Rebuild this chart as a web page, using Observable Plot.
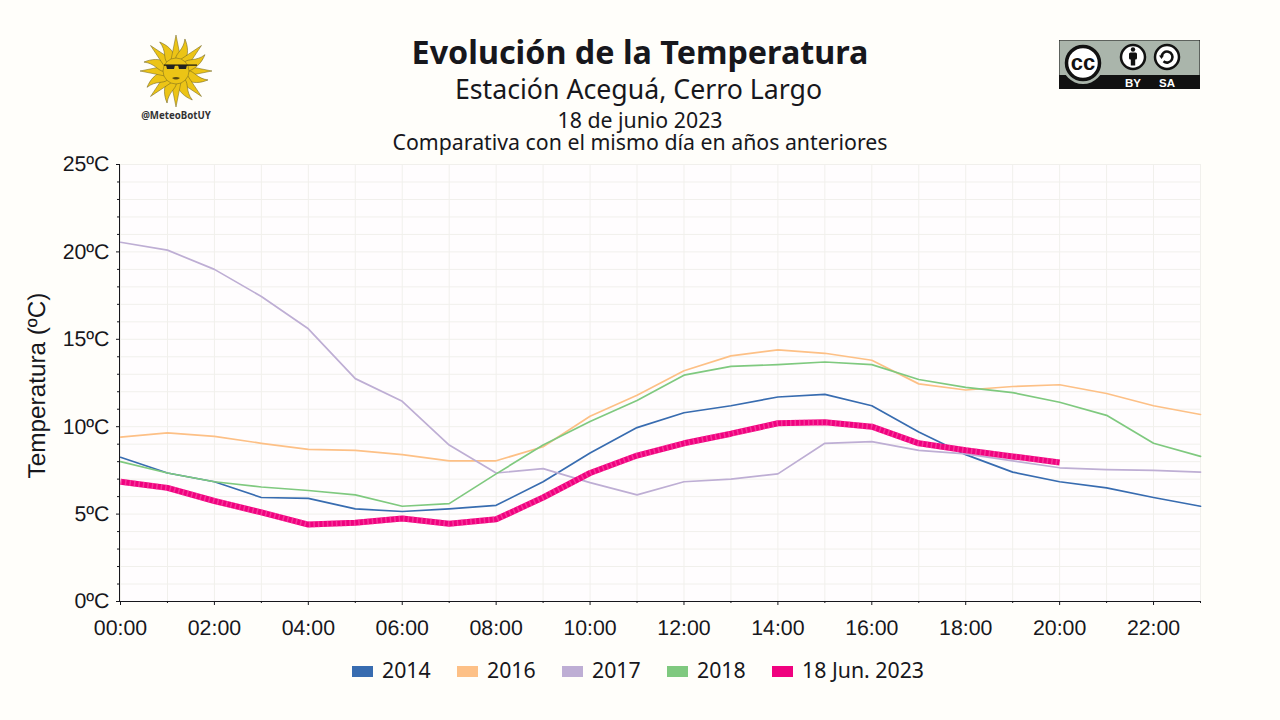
<!DOCTYPE html>
<html><head><meta charset="utf-8">
<script src="https://cdn.jsdelivr.net/npm/d3@7"></script>
<script src="https://cdn.jsdelivr.net/npm/@observablehq/plot@0.6"></script>
<style>
html,body{margin:0;padding:0;background:#fffefa;width:1280px;height:720px;overflow:hidden;font-family:"Noto Sans",sans-serif;color:#17171c}
#head{position:relative;height:155px;width:1280px}
#head div{position:absolute;left:0;width:1280px;text-align:center;white-space:nowrap}
#t1{top:29px;font-size:32.3px;font-weight:700;line-height:44px}
#t2{top:70px;left:-1.5px!important;font-size:26.7px;line-height:38px}
#t3{top:108px;font-size:21.3px;line-height:23px}
#t4{top:131px;font-size:21.3px;line-height:22px}
#chart{position:absolute;left:0;top:155px}
#chart svg{text-rendering:geometricPrecision}
#legend{position:absolute;left:0;top:655px;width:1280px;height:30px;font-size:21.3px}
#legend span{position:absolute;top:0;line-height:30px;white-space:nowrap}
#legend i{position:absolute;top:11px;height:11px;width:21px}
svg.deco{position:absolute}
</style></head><body>
<div id="head">
<div id="t1">Evolución de la Temperatura</div>
<div id="t2">Estación Aceguá, Cerro Largo</div>
<div id="t3">18 de junio 2023</div>
<div id="t4">Comparativa con el mismo día en años anteriores</div>
</div>
<svg class="deco" id="sun" style="left:130px;top:30px" width="92" height="95"></svg>
<svg class="deco" id="cc" style="left:1059px;top:40px" width="141" height="49"></svg>
<div id="chart"></div>
<div id="legend"></div>
<script>
const hours=[0,1,2,3,4,5,6,7,8,9,10,11,12,13,14,15,16,17,18,19,20,21,22,23];
const t2014=[8.25,7.35,6.85,5.95,5.9,5.3,5.15,5.3,5.5,6.85,8.5,9.95,10.8,11.2,11.7,11.85,11.2,9.7,8.4,7.4,6.85,6.5,5.95,5.45];
const t2016=[9.4,9.65,9.45,9.05,8.7,8.65,8.4,8.05,8.05,8.85,10.6,11.8,13.2,14.05,14.4,14.2,13.8,12.45,12.1,12.3,12.4,11.9,11.2,10.7];
const t2017=[20.55,20.1,19.0,17.45,15.6,12.75,11.45,8.95,7.35,7.6,6.8,6.1,6.85,7.0,7.3,9.05,9.15,8.65,8.45,8.05,7.65,7.55,7.5,7.4];
const t2018=[8.0,7.35,6.85,6.55,6.35,6.1,5.45,5.6,7.3,8.95,10.3,11.5,12.95,13.45,13.55,13.7,13.55,12.7,12.25,11.95,11.4,10.65,9.05,8.3];
const t2023=[6.85,6.5,5.75,5.1,4.4,4.5,4.75,4.45,4.7,5.95,7.35,8.35,9.05,9.6,10.2,10.25,10.0,9.05,8.65,8.3,7.95];
const names=["2014","2016","2017","2018","18 Jun. 2023"];
const colors=["#386cb0","#fdc086","#beaed4","#7fc97f","#f0027f"];
const legendX=[352,457,562,667,772];
const rows=(s,v)=>v.map((y,i)=>({h:hours[i],y,s}));
const thin=[[names[0],t2014],[names[1],t2016],[names[2],t2017],[names[3],t2018]];
const fmtH=h=>String(h).padStart(2,"0")+":00";
const grid="#f1f0ec";
const ySteps=d3.range(0,26), xMaj=d3.range(0,24,2);
const p=Plot.plot({
  width:1280,height:495,marginLeft:120,marginRight:80,marginTop:9,marginBottom:49,
  style:{background:"transparent",fontFamily:"'Liberation Sans',sans-serif",color:"#17171c",overflow:"visible"},
  x:{domain:[0,23],label:null},
  y:{domain:[0,25],label:null},
  color:{domain:names,range:colors},
  marks:[
    Plot.frame({fill:"#fffdfe",stroke:null}),
    Plot.ruleY(ySteps,{stroke:grid,strokeWidth:1}),
    Plot.ruleX(hours,{stroke:grid,strokeWidth:1}),
    ...thin.map(([n,v])=>Plot.line(rows(n,v),{x:"h",y:"y",stroke:"s",strokeWidth:1.7,curve:"linear"})),
    Plot.line(rows(names[4],t2023),{x:"h",y:"y",stroke:"s",strokeWidth:6,strokeLinecap:"butt",strokeLinejoin:"miter"}),
    Plot.line(rows(names[4],t2023),{x:"h",y:"y",stroke:"#fb5fb0",strokeOpacity:.55,strokeWidth:6,strokeDasharray:"1.5,3",strokeLinecap:"butt",strokeLinejoin:"miter"}),
    Plot.ruleX([0],{stroke:"#17171c",strokeWidth:1,dx:-1}),
    Plot.ruleY([0],{stroke:"#17171c",strokeWidth:1}),
    Plot.axisY({ticks:ySteps.filter(d=>d%5),tickSize:3,text:null,stroke:"#17171c",label:null}),
    Plot.axisY({ticks:d3.range(0,26,5),tickSize:4,tickFormat:d=>d+"ºC",fontSize:21.3,tickPadding:7,label:null,stroke:"#17171c"}),
    Plot.axisX({ticks:hours.filter(d=>d%2),tickSize:2,text:null,stroke:"#17171c",label:null}),
    Plot.axisX({ticks:xMaj,tickSize:4,tickFormat:fmtH,fontSize:21.3,tickPadding:14,label:null,stroke:"#17171c"}),
    Plot.text(["Temperatura (ºC)"],{frameAnchor:"left",textAnchor:"middle",dx:-83,dy:2.5,rotate:-90,fontSize:24.3,fill:"#17171c"})
  ]
});
document.getElementById("chart").append(p);
const L=document.getElementById("legend");
names.forEach((n,i)=>{
  const b=document.createElement("i");b.style.left=legendX[i]+"px";b.style.background=colors[i];L.append(b);
  const s=document.createElement("span");s.style.left=(legendX[i]+30)+"px";s.textContent=n;L.append(s);
});
// sun logo (decoration)
const sun=d3.select("#sun"),cx=46,cy=41;
const g=sun.append("g").attr("transform",`translate(${cx},${cy})`);
for(let i=0;i<16;i++){
  const deg=i*22.5,wavy=i%2;
  const d=wavy?"M11,-5C17,-7 22,-1 33,-4C27,2 21,5 11,5Z":"M11,-5L36,0L11,5Z";
  g.append("path").attr("d",d).attr("transform",`rotate(${deg})`).attr("fill","#ecc416").attr("stroke","#6f6220").attr("stroke-width",.5);
}
g.append("circle").attr("r",13).attr("fill","#ecc416").attr("stroke","#6f6220").attr("stroke-width",.5);
g.append("rect").attr("x",-12).attr("y",-6.5).attr("width",33).attr("height",1.2).attr("fill","#111");
g.append("path").attr("d","M-10,-6h9l-1,4h-7ZM2,-6h9l-1,4h-7Z").attr("fill","#222");
g.append("path").attr("d","M-4,7q4,-2 8,0q-4,3 -8,0Z").attr("fill","#5a4a10");
sun.append("text").attr("x",46).attr("y",88.5).attr("text-anchor","middle").attr("font-size",9.7).attr("font-weight",700).attr("font-family","'Noto Sans'").attr("fill","#333").text("@MeteoBotUY");
// CC badge (decoration)
const cc=d3.select("#cc");
cc.append("rect").attr("width",141).attr("height",49).attr("fill","#aab5ab").attr("stroke","#111");
cc.append("rect").attr("y",35).attr("width",141).attr("height",14).attr("fill","#111");
cc.append("circle").attr("cx",24).attr("cy",23).attr("r",21).attr("fill","#aab5ab");
cc.append("circle").attr("cx",24).attr("cy",23).attr("r",16.5).attr("fill","#fff").attr("stroke","#111").attr("stroke-width",3.5);
cc.append("text").attr("x",24).attr("y",29.5).attr("text-anchor","middle").attr("font-size",22).attr("font-weight",700).attr("font-family","'Liberation Sans'").attr("fill","#111").text("cc");
[[74,"BY"],[108,"SA"]].forEach(([x,t])=>{
  cc.append("circle").attr("cx",x).attr("cy",17).attr("r",12).attr("fill","#fff").attr("stroke","#111").attr("stroke-width",2.5);
  cc.append("text").attr("x",x).attr("y",46.5).attr("text-anchor","middle").attr("font-size",11.5).attr("font-weight",700).attr("font-family","'Liberation Sans'").attr("fill","#fff").text(t);
});
cc.append("circle").attr("cx",74).attr("cy",9.5).attr("r",2.2).attr("fill","#111");
cc.append("rect").attr("x",70).attr("y",12.5).attr("width",8).attr("height",7).attr("rx",1.5).attr("fill","#111");
cc.append("rect").attr("x",71.8).attr("y",18).attr("width",4.4).attr("height",7.5).attr("fill","#111");
cc.append("path").attr("d","M102.5,17a5.5,5.5 0 1 1 2,4.3").attr("fill","none").attr("stroke","#111").attr("stroke-width",2.6);
cc.append("path").attr("d","M100,15.5l5,0l-2.5,3.5Z").attr("fill","#111");
</script></body></html>
